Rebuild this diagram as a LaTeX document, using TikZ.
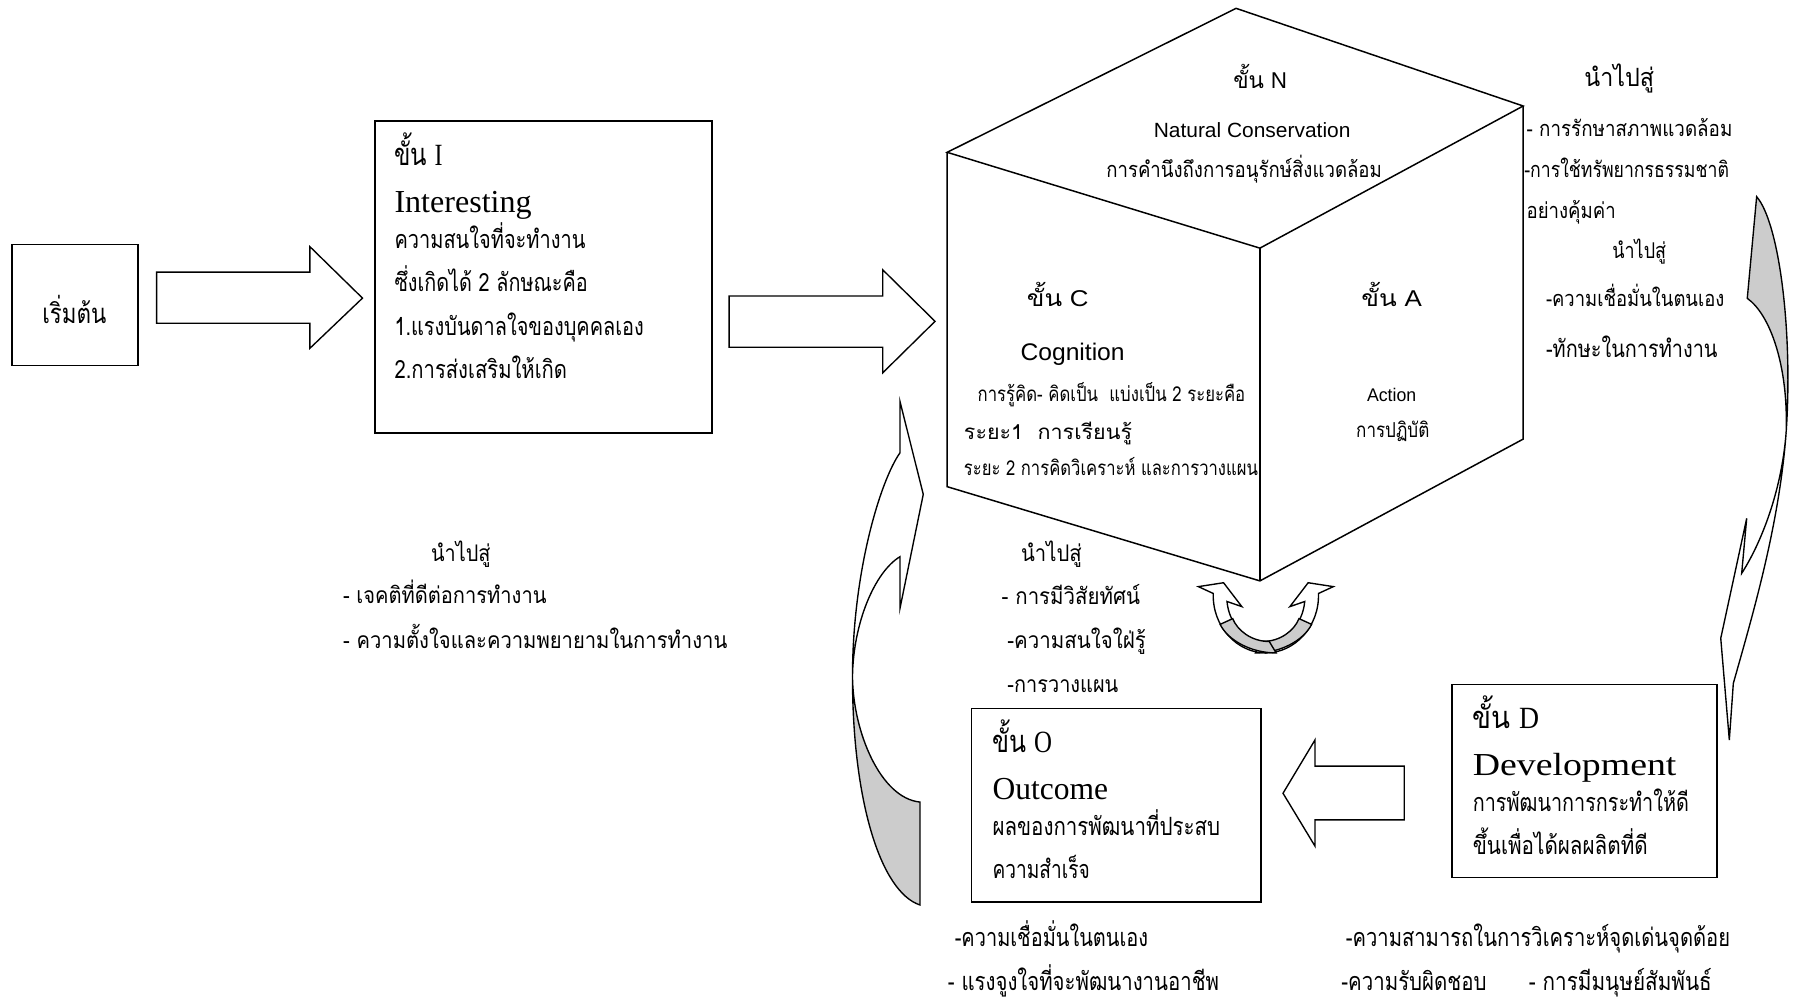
\documentclass[tikz,border=0pt]{standalone}
\usepackage{fontspec}
\usepackage{graphicx}
\newfontfamily\thai[Script=Thai]{Loma}
\newfontfamily\lserif{Liberation Serif}
\newfontfamily\lsans{Liberation Sans}
\definecolor{backgrey}{RGB}{204,204,204}
% width-fitted text: {width}{size}{text}
\newcommand\thtext[3]{\resizebox{#1pt}{\height}{\fontsize{#2pt}{#2pt}\selectfont\thai #3}}
\newcommand\sertext[3]{\resizebox{#1pt}{\height}{\fontsize{#2pt}{#2pt}\selectfont\lserif #3}}
\newcommand\santext[3]{\resizebox{#1pt}{\height}{\fontsize{#2pt}{#2pt}\selectfont\lsans #3}}
\newcommand\stepser[4]{\resizebox{#1pt}{\height}{\fontsize{#2pt}{#2pt}\selectfont{\thai #3}\ {\lserif #4}}}
\newcommand\stepsan[4]{\resizebox{#1pt}{\height}{\fontsize{#2pt}{#2pt}\selectfont{\thai #3}\ {\lsans #4}}}
\begin{document}
\begin{tikzpicture}[x=1pt,y=-1pt,line join=miter,
  box/.style={draw,line width=1.4pt,inner sep=0pt,anchor=north west},
  edge/.style={line width=1.3pt},
  shp/.style={draw,line width=1.2pt,line join=miter},
  gshp/.style={draw,fill=backgrey,line width=1.2pt,line join=miter},
  wshp/.style={draw,fill=white,line width=1.2pt,line join=miter},
  tl/.style={anchor=base west,inner sep=0pt,outer sep=0pt},
  tc/.style={anchor=base,inner sep=0pt,outer sep=0pt}]
\useasboundingbox (0,0) rectangle (1568,873);
\fill[white] (0,0) rectangle (1568,873);

% ---------- start box ----------
\node[box,minimum width=110pt,minimum height=106pt] (start) at (10,213) {};
\node[tc] (startT) at (65,283) {\thtext{56}{24}{เริ่มต้น}};

% ---------- block arrow 1 ----------
\draw[shp] (137,238) -- (271,238) -- (271,215.7) -- (317,260.7) -- (271,304.6) -- (271,282.7) -- (137,282.7) -- cycle;

% ---------- box I ----------
\node[box,minimum width=295pt,minimum height=273pt] (boxI) at (327,105) {};
\node[tl] (i1) at (345,145) {\stepser{42}{27}{ขั้น}{I}};
\node[tl] (i2) at (345,186) {\sertext{120}{28}{Interesting}};
\node[tl] (i3) at (345,217) {\thtext{167}{22}{ความสนใจที่จะทำงาน}};
\node[tl] (i4) at (345,255) {\thtext{169}{22}{ซึ่งเกิดได้ 2 ลักษณะคือ}};
\node[tl] (i5) at (345,293) {\thtext{218}{22}{1.แรงบันดาลใจของบุคคลเอง}};
\node[tl] (i6) at (345,331) {\thtext{151}{22}{2.การส่งเสริมให้เกิด}};

% ---------- block arrow 2 ----------
\draw[shp] (637.6,258.9) -- (772,258.9) -- (772,236) -- (817.7,281) -- (772,326) -- (772,303.7) -- (637.6,303.7) -- cycle;

% ---------- cube ----------
\coordinate (T) at (1081,7.3);
\coordinate (L) at (828.3,133.2);
\coordinate (R) at (1332,92.7);
\coordinate (F) at (1101.8,217);
\coordinate (LB) at (828.3,425.6);
\coordinate (FB) at (1101.8,508);
\coordinate (RB) at (1332,384);
\draw[edge] (L) -- (T) -- (R) -- (F) -- cycle;
\draw[edge] (L) -- (LB) -- (FB) -- (RB) -- (R);
\draw[edge] (F) -- (FB);

\node[tc] (n1) at (1102,77) {\stepsan{47}{20}{ขั้น}{N}};
\node[tc] (n2) at (1095,120) {\santext{172}{18}{Natural Conservation}};
\node[tc] (n3) at (1088,155) {\thtext{241}{19}{การคำนึงถึงการอนุรักษ์สิ่งแวดล้อม}};

\node[tc] (c1) at (925,268) {\stepsan{54}{20}{ขั้น}{C}};
\node[tc] (c2) at (938,315) {\santext{91}{21}{Cognition}};
\node[tl] (c3) at (855,351) {\thtext{234}{18}{การรู้คิด- คิดเป็น\ \ แบ่งเป็น 2 ระยะคือ}};
\node[tl] (c4) at (843,384) {\thtext{147}{18}{ระยะ1\ \ การเรียนรู้}};
\node[tl] (c5) at (843,416) {\thtext{257}{18}{ระยะ 2 การคิดวิเคราะห์ และการวางแผน}};

\node[tc] (a1) at (1217,268) {\stepsan{53}{20}{ขั้น}{A}};
\node[tc] (a2) at (1217,351) {\santext{43}{16}{Action}};
\node[tc] (a3) at (1218,383) {\thtext{64}{18}{การปฏิบัติ}};

% ---------- right texts ----------
\node[tc] (r1) at (1416,76) {\thtext{61}{22}{นำไปสู่}};
\node[tl] (r2) at (1335,119) {\thtext{180}{19}{- การรักษาสภาพแวดล้อม}};
\node[tl] (r3) at (1333,155) {\thtext{179}{19}{-การใช้ทรัพยากรธรรมชาติ}};
\node[tl] (r4) at (1335,191) {\thtext{78}{19}{อย่างคุ้มค่า}};
\node[tc] (r5) at (1433.5,226) {\thtext{47}{19}{นำไปสู่}};
\node[tl] (r6) at (1352,268) {\thtext{156}{19}{-ความเชื่อมั่นในตนเอง}};
\node[tl] (r7) at (1352,313) {\thtext{150}{21}{-ทักษะในการทำงาน}};

% ---------- left middle texts ----------
\node[tc] (m1) at (403,491) {\thtext{52}{20}{นำไปสู่}};
\node[tl] (m2) at (300,528) {\thtext{178}{20}{- เจคติที่ดีต่อการทำงาน}};
\node[tl] (m3) at (300,567) {\thtext{336}{20}{- ความตั้งใจและความพยายามในการทำงาน}};

% ---------- centre texts ----------
\node[tc] (k1) at (919.5,491) {\thtext{53}{20}{นำไปสู่}};
\node[tl] (k2) at (876,529) {\thtext{121}{20}{- การมีวิสัยทัศน์}};
\node[tl] (k3) at (881,567) {\thtext{121}{20}{-ความสนใจใฝ่รู้}};
\node[tl] (k4) at (881,606) {\thtext{97}{20}{-การวางแผน}};

% ---------- box O ----------
\node[box,minimum width=253pt,minimum height=169pt] (boxO) at (849,619) {};
\node[tl] (o1) at (868,658) {\stepser{52}{27}{ขั้น}{O}};
\node[tl] (o2) at (868,699) {\sertext{101}{28}{Outcome}};
\node[tl] (o3) at (868,731) {\thtext{199}{22}{ผลของการพัฒนาที่ประสบ}};
\node[tl] (o4) at (868,768) {\thtext{85}{22}{ความสำเร็จ}};

% ---------- box D ----------
\node[box,minimum width=232pt,minimum height=168.5pt] (boxD) at (1269,598) {};
\node[tl] (d1) at (1288,637) {\stepser{58}{27}{ขั้น}{D}};
\node[tl] (d2) at (1288,678) {\sertext{178}{28}{Development}};
\node[tl] (d3) at (1288,710) {\thtext{189}{22}{การพัฒนาการกระทำให้ดี}};
\node[tl] (d4) at (1288,747) {\thtext{153}{22}{ขึ้นเพื่อได้ผลผลิตที่ดี}};

% ---------- block arrow 3 (D -> O) ----------
\draw[shp] (1228,670) -- (1150,670) -- (1150,647) -- (1122,693.7) -- (1150,740) -- (1150,717) -- (1228,717) -- cycle;

% ---------- bottom texts ----------
\node[tl] (b1) at (835,828) {\thtext{169}{22}{-ความเชื่อมั่นในตนเอง}};
\node[tl] (b2) at (829,866) {\thtext{237}{22}{- แรงจูงใจที่จะพัฒนางานอาชีพ}};
\node[tl] (b3) at (1177,828) {\thtext{336}{22}{-ความสามารถในการวิเคราะห์จุดเด่นจุดด้อย}};
\node[tl] (b4) at (1173,866) {\thtext{127}{22}{-ความรับผิดชอบ}};
\node[tl] (b5) at (1337,866) {\thtext{160}{22}{- การมีมนุษย์สัมพันธ์}};

% ---------- right curved arrow ----------
\coordinate (rA) at (1536.2,172);
\coordinate (rB) at (1528,260.9);
\coordinate (rC) at (1562,378);
\coordinate (rNo) at (1515.8,597.6);
\coordinate (rNi) at (1523.1,501.4);
\coordinate (rCb) at (1512.3,647.1);
\coordinate (rTip) at (1504.8,558.2);
\coordinate (rCt) at (1527.5,453.3);
\path[gshp] (rA) .. controls (1556,195) and (1568,290) .. (rC)
  .. controls (1564,320) and (1548,275) .. (rB) -- cycle;
\path[shp] (rC) .. controls (1556,460) and (1532,540) .. (rNo) -- (rCb) -- (rTip) -- (rCt) -- (rNi)
  .. controls (1540,475) and (1558,430) .. (rC);

% ---------- left curved arrow ----------
\coordinate (lN1) at (787.1,395.9);
\coordinate (lH1) at (787.1,351.3);
\coordinate (lTip) at (807.4,432.3);
\coordinate (lH2) at (787.1,531.7);
\coordinate (lN2) at (787.1,486.8);
\coordinate (lP) at (745.5,592);
\coordinate (lTt) at (804.5,701.4);
\coordinate (lTb) at (804.5,791.4);
\path[gshp] (lP) .. controls (746,640) and (770,698) .. (lTt) -- (lTb)
  .. controls (770,780) and (745.5,700) .. (lP) -- cycle;
\path[shp] (lN1) .. controls (770,420) and (745.5,500) .. (lP)
  .. controls (746,545) and (765,500) .. (lN2) -- (lH2) -- (lTip) -- (lH1) -- cycle;

% ---------- circular arrows below the cube ----------
\path[wshp] (1061,519) .. controls (1060,548) and (1082,571) .. (1107,571)
  -- (1107,561) .. controls (1090,561) and (1075,547) .. (1073,526)
  -- (1086,530.5) -- (1070,509.6) -- (1048,513) -- cycle;
\path[wshp] (1153,519) .. controls (1154,548) and (1132,571) .. (1107,571)
  -- (1107,561) .. controls (1124,561) and (1139,547) .. (1141,526)
  -- (1128,530.5) -- (1144,509.6) -- (1166,513) -- cycle;
\path[gshp] (1098,571) .. controls (1120,571) and (1140,560) .. (1147,546)
  -- (1136,541) .. controls (1132,551) and (1120,561) .. (1104,561) -- cycle;
\path[gshp] (1116,571) .. controls (1094,571) and (1074,560) .. (1067,546)
  -- (1078,541) .. controls (1082,551) and (1094,561) .. (1110,561) -- cycle;
\end{tikzpicture}
\end{document}
